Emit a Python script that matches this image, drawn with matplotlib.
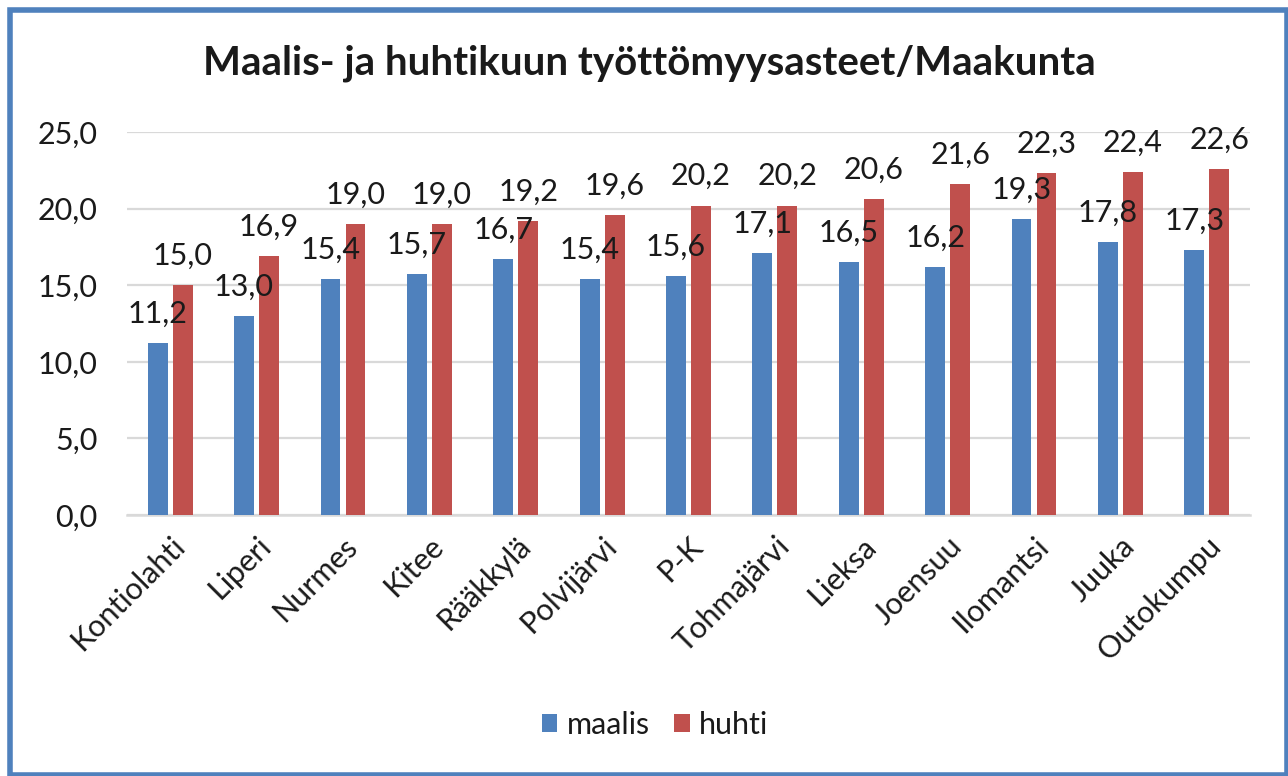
import matplotlib
matplotlib.use('Agg')
import matplotlib.pyplot as plt
import numpy as np
from matplotlib.patches import Rectangle

# data
kunnat = ['Kontiolahti', 'Liperi', 'Nurmes', 'Kitee', 'Rääkkylä', 'Polvijärvi', 'P-K',
          'Tohmajärvi', 'Lieksa', 'Joensuu', 'Ilomantsi', 'Juuka', 'Outokumpu']
maalis = [11.2, 13.0, 15.4, 15.7, 16.7, 15.4, 15.6, 17.1, 16.5, 16.2, 19.3, 17.8, 17.3]
huhti = [15.0, 16.9, 19.0, 19.0, 19.2, 19.6, 20.2, 20.2, 20.6, 21.6, 22.3, 22.4, 22.6]
y_ticks = [0, 5, 10, 15, 20, 25]

plt.rcParams['font.family'] = ['Lato', 'DejaVu Sans']
txt_color = '#1a1a1a'


def fi(v):
    # finnish decimal comma
    return f'{v:.1f}'.replace('.', ',')


fig = plt.figure(figsize=(12.88, 7.76), dpi=100)
ax = fig.add_axes([127 / 1288, 1 - 515 / 776, (1250 - 127) / 1288, (515 - 132) / 776])

x = np.arange(len(kunnat))
w = 0.23
off = 0.145
b1 = ax.bar(x - off, maalis, w, color='#4F81BD', label='maalis', zorder=3)
b2 = ax.bar(x + off, huhti, w, color='#C0504D', label='huhti', zorder=3)

# value labels above the bars
for bars, vals in [(b1, maalis), (b2, huhti)]:
    for rect, v in zip(bars, vals):
        ax.annotate(fi(v), (rect.get_x() + rect.get_width() / 2, v),
                    xytext=(0, 11), textcoords='offset points',
                    ha='center', va='bottom', fontsize=22, color=txt_color, zorder=5)

ax.set_xlim(-0.5, len(kunnat) - 0.5)
ax.set_ylim(0, 25)
ax.set_yticks(y_ticks)
ax.set_yticklabels([fi(t) for t in y_ticks], fontsize=22, color=txt_color)
ax.set_xticks(x)
ax.set_xticklabels(kunnat, rotation=45, ha='right', rotation_mode='anchor',
                   fontsize=22, color=txt_color)
ax.tick_params(axis='y', length=0, pad=21)
ax.tick_params(axis='x', length=0, pad=12)

ax.grid(axis='y', color='#D9D9D9', linewidth=1.6, zorder=0)
for s in ['top', 'right', 'left']:
    ax.spines[s].set_visible(False)
ax.spines['bottom'].set_color('#D9D9D9')
ax.spines['bottom'].set_linewidth(1.8)

fig.text(649 / 1288, 1 - 63 / 776, 'Maalis- ja huhtikuun työttömyysasteet/Maakunta',
         ha='center', va='center', fontsize=29, fontweight='bold', color=txt_color)

fig.legend(handles=[b1, b2], loc='center', bbox_to_anchor=(655 / 1288, 1 - 725 / 776),
           ncol=2, frameon=False, fontsize=22, handlelength=0.52, handleheight=0.52,
           handletextpad=0.3, columnspacing=0.8, labelcolor=txt_color)

# blue frame around the whole chart
fig.patches.append(Rectangle((10 / 1288, 1 / 776), 1277 / 1288, 765 / 776,
                             transform=fig.transFigure, fill=False,
                             edgecolor='#4F81BD', linewidth=4))

plt.savefig('out.png', dpi=100)
